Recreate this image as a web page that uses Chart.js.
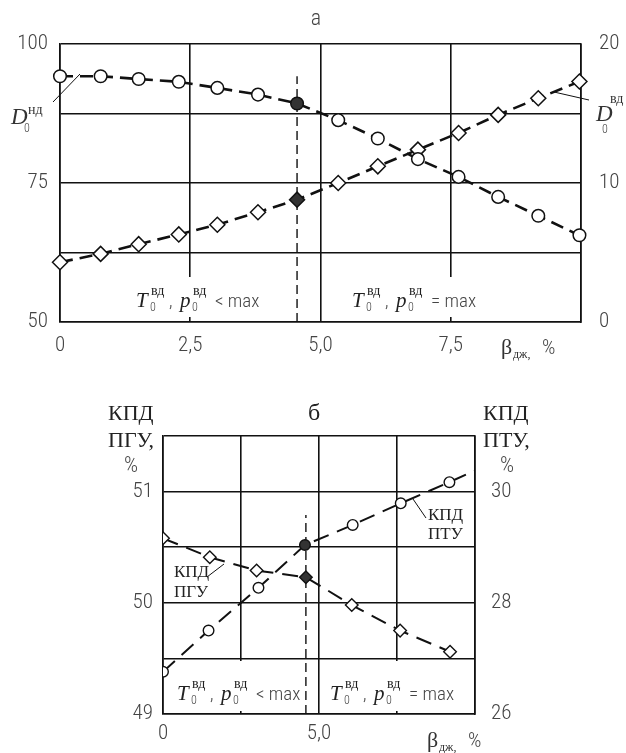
<!DOCTYPE html>
<html>
<head>
<meta charset="utf-8">
<script src="https://cdn.jsdelivr.net/npm/chart.js@4.4.0/dist/chart.umd.min.js"></script>
<style>
  body { margin: 0; background: #fff; }
  canvas { position: absolute; left: 0; }
  #chartA { top: 0; }
  #chartB { top: 365px; }
</style>
</head>
<body>
<canvas id="chartA" width="626" height="365"></canvas>
<canvas id="chartB" width="626" height="388"></canvas>
<script>
// --- chart а ---
const betaA = [0, 0.78, 1.51, 2.28, 3.02, 3.8, 4.55, 5.34, 6.1, 6.87, 7.65, 8.41, 9.18, 9.97];
const dNd = [94.2, 94.2, 93.7, 93.2, 92.1, 90.9, 89.3, 86.3, 83.0, 79.3, 76.1, 72.5, 69.1, 65.6];
const dVd = [4.3, 4.9, 5.6, 6.3, 7.0, 7.9, 8.8, 10.0, 11.2, 12.4, 13.6, 14.9, 16.1, 17.3];
const xTickValsA = [0, 2.5, 5, 7.5];
const xTickLabelsA = ['0', '2,5', '5,0', '7,5'];
const yTicksA = [50, 75, 100];
const y1TicksA = [0, 10, 20];
const markA = [4.55, 50, 94.2]; // x, y from, y to

// --- chart б ---
const betaPtu = [0, 1.46, 3.06, 4.55, 6.08, 7.62, 9.18, 10];
const kpdPtu = [26.76, 27.5, 28.27, 29.04, 29.4, 29.79, 30.17, 30.38];
const betaPgu = [0, 1.5, 3.0, 4.58, 6.05, 7.6, 9.2, 9.58];
const kpdPgu = [50.58, 50.41, 50.29, 50.23, 49.98, 49.75, 49.56, 49.51];
const xTickValsB = [0, 5];
const xTickLabelsB = ['0', '5,0'];
const yTicksB = [49, 50, 51];
const y1TicksB = [26, 28, 30];
const markB = [4.58, 49, 50.79];

const INK = '#111';
const GREY = '#444';
const SANS = 'Roboto, "Liberation Sans", sans-serif';
const SERIF = '"Liberation Serif", "DejaVu Serif", serif';
const sans = size => 'condensed 300 ' + size + 'px ' + SANS;

function pts(xs, ys) { return xs.map((x, i) => ({ x: x, y: ys[i] })); }
function pick(vals, labels) {
  return v => {
    const i = vals.findIndex(t => Math.abs(t - v) < 1e-6);
    return i < 0 ? '' : (labels ? labels[i] : String(vals[i]));
  };
}
function put(ctx, text, x, y, font, color, align) {
  ctx.font = font;
  ctx.fillStyle = color || INK;
  ctx.textAlign = align || 'left';
  ctx.textBaseline = 'alphabetic';
  ctx.fillText(text, x, y);
}
function seg(ctx, x1, y1, x2, y2) {
  ctx.beginPath();
  ctx.moveTo(x1, y1);
  ctx.lineTo(x2, y2);
  ctx.strokeStyle = INK;
  ctx.lineWidth = 1;
  ctx.setLineDash([]);
  ctx.stroke();
}
function tpLabel(ctx, x, y, tail) {
  put(ctx, 'T', x, y, 'italic 21px ' + SERIF, '#222');
  put(ctx, 'вд', x + 15, y - 12, '14px ' + SERIF, '#222');
  put(ctx, '0', x + 14, y + 4, sans(12), GREY);
  put(ctx, ',', x + 33, y, sans(18), GREY);
  put(ctx, 'p', x + 44, y, 'italic 21px ' + SERIF, '#222');
  put(ctx, 'вд', x + 57, y - 12, '14px ' + SERIF, '#222');
  put(ctx, '0', x + 56, y + 4, sans(12), GREY);
  put(ctx, tail, x + 79, y, sans(19), GREY);
}
function betaLabel(ctx, x, y) {
  put(ctx, 'β', x, y, '22px ' + SERIF, '#333');
  put(ctx, 'дж,', x + 12, y + 4, '12px ' + SERIF, '#333');
  put(ctx, '%', x + 41, y, sans(21), GREY);
}

function axes(xVals, xLabels, yMin, yMax, yStep, yTicks, y1Min, y1Max, y1Step, y1Ticks, w) {
  const grid = { color: INK, lineWidth: 1.6, drawTicks: false };
  const tickFont = { family: SANS, size: 21, weight: 'condensed 300' };
  return {
    x: {
      type: 'linear', min: 0, max: 10,
      grid: grid, border: { color: INK, width: 1.6 },
      ticks: { stepSize: 2.5, autoSkip: false, maxRotation: 0, padding: w.xPad,
               font: tickFont, color: GREY, callback: pick(xVals, xLabels) },
      afterFit: s => { s.height = w.xH; }
    },
    y: {
      type: 'linear', position: 'left', min: yMin, max: yMax,
      grid: grid, border: { color: INK, width: 1.6 },
      ticks: { stepSize: yStep, autoSkip: false, padding: w.yPad,
               font: tickFont, color: GREY, callback: pick(yTicks) },
      afterFit: s => { s.width = w.yW; }
    },
    y1: {
      type: 'linear', position: 'right', min: y1Min, max: y1Max,
      grid: { display: false }, border: { color: INK, width: 1.6 },
      ticks: { stepSize: y1Step, autoSkip: false, padding: w.y1Pad,
               font: tickFont, color: GREY, callback: pick(y1Ticks) },
      afterFit: s => { s.width = w.y1W; }
    }
  };
}

const base = {
  responsive: false,
  animation: false,
  plugins: { legend: { display: false }, tooltip: { enabled: false } },
};

// chart а
const fillA = betaA.map((x, i) => i === 6 ? '#333' : '#fff');
new Chart(document.getElementById('chartA'), {
  type: 'line',
  data: {
    datasets: [
      {
        data: pts(betaA, dNd), yAxisID: 'y', borderColor: INK, borderWidth: 2.6,
        borderDash: [13, 7], pointStyle: 'circle', pointRadius: 6.3,
        pointBackgroundColor: fillA, pointBorderColor: INK, pointBorderWidth: 1.5, clip: false
      },
      {
        data: pts(betaA, dVd), yAxisID: 'y1', borderColor: INK, borderWidth: 2.6,
        borderDash: [13, 7], pointStyle: 'rectRot', pointRadius: 7.5,
        pointBackgroundColor: fillA, pointBorderColor: INK, pointBorderWidth: 1.5, clip: false
      },
      {
        data: [{ x: markA[0], y: markA[1] }, { x: markA[0], y: markA[2] }], yAxisID: 'y',
        borderColor: INK, borderWidth: 1.4, borderDash: [9, 5], pointRadius: 0
      }
    ]
  },
  options: Object.assign({}, base, {
    layout: { padding: { top: 44, left: 0, right: 0, bottom: 0 } },
    scales: axes(xTickValsA, xTickLabelsA, 50, 100, 12.5, yTicksA, 0, 20, 5, y1TicksA,
                 { xH: 43, xPad: 11, yW: 60, yPad: 12, y1W: 45, y1Pad: 10 })
  }),
  plugins: [{
    id: 'notesA',
    beforeDatasetsDraw(chart) {
      const ctx = chart.ctx;
      ctx.save();
      ctx.fillStyle = '#fff';
      ctx.fillRect(62, 277, 231, 40);
      ctx.fillRect(324, 277, 255, 40);
      tpLabel(ctx, 136, 307, '< max');
      tpLabel(ctx, 352, 307, '= max');
      ctx.restore();
    },
    afterDraw(chart) {
      const ctx = chart.ctx;
      ctx.save();
      put(ctx, 'а', 316, 25, sans(22), GREY, 'center');
      put(ctx, 'D', 11, 124, 'italic 23px ' + SERIF, '#333');
      put(ctx, 'нд', 28, 114, '14px ' + SERIF, '#333');
      put(ctx, '0', 24, 132, sans(12), GREY);
      seg(ctx, 53, 102, 80, 74);
      put(ctx, 'D', 596, 121, 'italic 23px ' + SERIF, '#333');
      put(ctx, 'вд', 610, 103, '14px ' + SERIF, '#333');
      put(ctx, '0', 602, 133, sans(12), GREY);
      seg(ctx, 554, 92, 589, 100);
      betaLabel(ctx, 501, 354);
      ctx.restore();
    }
  }]
});

// chart б
const fillPtu = betaPtu.map((x, i) => i === 3 ? '#333' : '#fff');
const radPtu = betaPtu.map((x, i) => i === betaPtu.length - 1 ? 0 : 5.3);
const fillPgu = betaPgu.map((x, i) => i === 3 ? '#333' : '#fff');
const radPgu = betaPgu.map((x, i) => i === betaPgu.length - 1 ? 0 : 6.3);
new Chart(document.getElementById('chartB'), {
  type: 'line',
  data: {
    datasets: [
      {
        data: pts(betaPtu, kpdPtu), yAxisID: 'y1', borderColor: INK, borderWidth: 2,
        borderDash: [16, 9], pointStyle: 'circle', pointRadius: radPtu,
        pointBackgroundColor: fillPtu, pointBorderColor: INK, pointBorderWidth: 1.4
      },
      {
        data: pts(betaPgu, kpdPgu), yAxisID: 'y', borderColor: INK, borderWidth: 2,
        borderDash: [16, 9], pointStyle: 'rectRot', pointRadius: radPgu,
        pointBackgroundColor: fillPgu, pointBorderColor: INK, pointBorderWidth: 1.4
      },
      {
        data: [{ x: markB[0], y: markB[1] }, { x: markB[0], y: markB[2] }], yAxisID: 'y',
        borderColor: INK, borderWidth: 1.4, borderDash: [9, 5], pointRadius: 0
      }
    ]
  },
  options: Object.assign({}, base, {
    layout: { padding: { top: 71, left: 0, right: 0, bottom: 0 } },
    scales: axes(xTickValsB, xTickLabelsB, 49, 51.5, 0.5, yTicksB, 26, 31, 1, y1TicksB,
                 { xH: 39, xPad: 7, yW: 163, yPad: 10, y1W: 151, y1Pad: 8 })
  }),
  plugins: [{
    id: 'notesB',
    beforeDatasetsDraw(chart) {
      const ctx = chart.ctx;
      ctx.save();
      ctx.fillStyle = '#fff';
      ctx.fillRect(165, 296, 150, 50);
      ctx.fillRect(321, 296, 152, 50);
      tpLabel(ctx, 177, 335, '< max');
      tpLabel(ctx, 330, 335, '= max');
      ctx.restore();
    },
    afterDraw(chart) {
      const ctx = chart.ctx;
      ctx.save();
      put(ctx, 'б', 314, 55, '24px ' + SERIF, '#222', 'center');
      put(ctx, 'КПД', 108, 55, '22px ' + SERIF, '#222');
      put(ctx, 'ПГУ,', 108, 82, '22px ' + SERIF, '#222');
      put(ctx, '%', 131, 107, sans(22), GREY, 'center');
      put(ctx, 'КПД', 483, 55, '22px ' + SERIF, '#222');
      put(ctx, 'ПТУ,', 483, 82, '22px ' + SERIF, '#222');
      put(ctx, '%', 507, 107, sans(22), GREY, 'center');
      put(ctx, 'КПД', 428, 155, '17px ' + SERIF, '#222');
      put(ctx, 'ПТУ', 428, 174, '17px ' + SERIF, '#222');
      seg(ctx, 413, 134, 426, 153);
      put(ctx, 'КПД', 174, 212, '17px ' + SERIF, '#222');
      put(ctx, 'ПГУ', 174, 232, '17px ' + SERIF, '#222');
      seg(ctx, 207, 212, 224, 199);
      betaLabel(ctx, 427, 382);
      ctx.restore();
    }
  }]
});
</script>
</body>
</html>
